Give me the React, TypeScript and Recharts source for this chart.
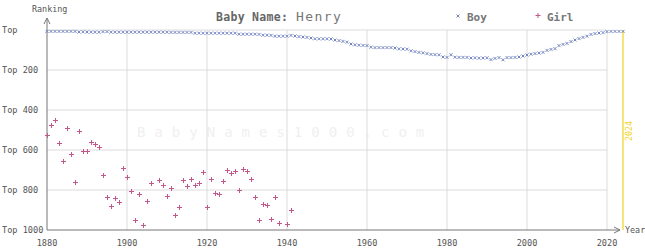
import { ScatterChart, Scatter, XAxis, YAxis, ReferenceLine, Label } from 'recharts';

const boyStartYear = 1880;
const boyRanks = [
  7, 7, 7, 7, 7, 7, 7, 7, 10, 9, 10, 11, 11, 11, 8, 8,
  11, 11, 11, 11, 11, 11, 11, 11, 11, 11, 11, 11, 11, 11, 11, 12, 12, 12, 12, 12, 12,
  16, 16, 16, 16, 16, 16, 16, 16, 16, 16, 16,
  21, 21, 21, 21, 21, 22, 26, 26, 27, 31, 31, 31, 31, 27,
  30, 33, 35, 37, 40, 44, 44, 44, 44, 45, 50, 53, 57, 61,
  70, 74, 76, 77, 78, 86, 88, 88, 88, 88, 88, 90, 94, 95, 96,
  104, 108, 112, 114, 118, 122, 123, 124, 135, 137, 124,
  136, 137, 137, 137, 140, 139, 141, 140, 139, 148, 142, 138, 149,
  138, 138, 137, 135, 130, 125, 121, 118, 115, 112, 102, 97, 93,
  78, 72, 67, 58, 50, 43, 37, 31, 22, 18, 15, 13, 8, 7, 7, 7, 7,
];

const girlStartYear = 1880;
const girlRanks: (number | null)[] = [
  525, 475, 450, 565, 657, 492, 620, 760, 505, 607,
  607, 560, 570, 585, 725, 835, 880, 840, 860, 690,
  735, 805, 950, 820, 975, 855, 765, null, 750, 775,
  830, 790, 925, 885, 750, 780, 745, 775, 765, 710,
  885, 745, 815, 820, 755, 700, 715, 705, 800, 695,
  705, 745, 835, 950, 870, 875, 945, 835, 965, null,
  970, 900,
];

const yearTicks = [1880, 1900, 1920, 1940, 1960, 1980, 2000, 2020];
const rankTicks = [0, 200, 400, 600, 800, 1000];
const gridYears = [1900, 1920, 1940, 1960, 1980, 2000, 2020];
const gridRanks = [0, 200, 400, 600, 800];
const currentYear = 2024;

const boyData = boyRanks.map((rank, i) => ({ year: boyStartYear + i, rank }));
const girlData = girlRanks
  .map((rank, i) => ({ year: girlStartYear + i, rank }))
  .filter((d) => d.rank !== null);

const mono = '"DejaVu Sans Mono", monospace';
const gridColor = '#dcdcdc';
const axisColor = '#777';
const boyColor = '#7587c2';
const girlColor = '#c2578a';
const yellow = '#f2d31b';

function BoyMark(props: any) {
  const { cx, cy } = props;
  if (cx == null || cy == null) return null;
  return (
    <path
      d={`M${cx - 1.5},${cy - 1.5}L${cx + 1.5},${cy + 1.5}M${cx - 1.5},${cy + 1.5}L${cx + 1.5},${cy - 1.5}`}
      stroke={boyColor}
      strokeWidth={1}
      fill="none"
    />
  );
}

function GirlMark(props: any) {
  const { cx, cy } = props;
  if (cx == null || cy == null) return null;
  const x = Math.round(cx) + 0.5;
  const y = Math.round(cy) + 0.5;
  return (
    <path
      d={`M${x - 2.5},${y}L${x + 2.5},${y}M${x},${y - 2.5}L${x},${y + 2.5}`}
      stroke={girlColor}
      strokeWidth={1}
      fill="none"
    />
  );
}

function RankTick(props: any) {
  const { y, payload } = props;
  const v = payload.value;
  return (
    <text x={2} y={y + 3} fontFamily={mono} fontSize={8.6} fill="#555" textAnchor="start">
      {v === 0 ? 'Top' : `Top ${v}`}
    </text>
  );
}

function YearTick(props: any) {
  const { x, payload } = props;
  return (
    <text x={x} y={246} fontFamily={mono} fontSize={8.6} fill="#555" textAnchor="middle">
      {payload.value}
    </text>
  );
}

function YDeco(props: any) {
  const { x, y, width, height } = props.viewBox;
  const ax = x + width;
  return (
    <g>
      <line x1={ax} y1={y - 12} x2={ax} y2={y + height} stroke={axisColor} strokeWidth={1} />
      <polyline points={`${ax - 3},${y - 6} ${ax},${y - 12} ${ax + 3},${y - 6}`} stroke={axisColor} fill="none" />
      <text x={32} y={12} fontFamily={mono} fontSize={8.4} fill="#555">
        Ranking
      </text>
    </g>
  );
}

function XDeco(props: any) {
  const { x, y, width } = props.viewBox;
  const end = x + width - 3;
  return (
    <g>
      <line x1={x} y1={y} x2={end} y2={y} stroke={axisColor} strokeWidth={1} />
      <polyline points={`${end - 6},${y - 3} ${end},${y} ${end - 6},${y + 3}`} stroke={axisColor} fill="none" />
      <text x={625} y={233} fontFamily={mono} fontSize={8.4} fill="#555">
        Year
      </text>
    </g>
  );
}

function YearMarkLabel(props: any) {
  const { x, y, height } = props.viewBox;
  const tx = x + 9;
  const ty = y + height / 2 + 1;
  return (
    <text
      x={tx}
      y={ty}
      transform={`rotate(-90 ${tx} ${ty})`}
      fontFamily={mono}
      fontSize={8.4}
      fill={yellow}
      textAnchor="middle"
    >
      {currentYear}
    </text>
  );
}

export default function App() {
  return (
    <div style={{ position: 'absolute', left: 0, top: 0, width: 645, height: 250, background: '#fff' }}>
      <svg width={645} height={250} style={{ position: 'absolute', left: 0, top: 0 }}>
        <text x={137} y={137} fontFamily={mono} fontSize={14} fill="#f0f0f0" letterSpacing={9}>
          BabyNames1000.com
        </text>
        <text x={216} y={21} fontFamily={mono} fontSize={11.5} fontWeight="bold" fill="#666" letterSpacing={0.3}>
          Baby Name:
        </text>
        <text x={296} y={20.5} fontFamily={mono} fontSize={13} fill="#777" letterSpacing={1.4}>
          Henry
        </text>
        <path d="M456.5,14.5L459.5,17.5M456.5,17.5L459.5,14.5" stroke={boyColor} fill="none" />
        <text x={467} y={20.5} fontFamily={mono} fontSize={11} fontWeight="bold" fill="#777">
          Boy
        </text>
        <path d="M535.5,15.5L540.5,15.5M538,13L538,18" stroke={girlColor} strokeWidth={1} fill="none" />
        <text x={547} y={20.5} fontFamily={mono} fontSize={11} fontWeight="bold" fill="#777">
          Girl
        </text>
      </svg>
      <div style={{ position: 'absolute', left: 0, top: 0 }}>
        <ScatterChart width={645} height={250} margin={{ top: 30, right: 22, bottom: 0, left: 0 }}>
          <XAxis
            type="number"
            dataKey="year"
            domain={[1880, 2024]}
            ticks={yearTicks}
            interval={0}
            height={20}
            axisLine={false}
            tickLine={false}
            tick={<YearTick />}
          >
            <Label content={<XDeco />} />
          </XAxis>
          <YAxis
            type="number"
            dataKey="rank"
            domain={[0, 1000]}
            reversed
            ticks={rankTicks}
            interval={0}
            width={47}
            axisLine={false}
            tickLine={false}
            tick={<RankTick />}
          >
            <Label content={<YDeco />} />
          </YAxis>
          {gridRanks.map((r) => (
            <ReferenceLine
              key={`h${r}`}
              segment={[
                { x: 1880, y: r },
                { x: 2020, y: r },
              ]}
              stroke={gridColor}
              strokeWidth={1}
            />
          ))}
          {gridYears.map((yr) => (
            <ReferenceLine key={`v${yr}`} x={yr} stroke={gridColor} strokeWidth={1} />
          ))}
          <Scatter data={girlData} dataKey="rank" shape={<GirlMark />} isAnimationActive={false} />
          <Scatter data={boyData} dataKey="rank" shape={<BoyMark />} isAnimationActive={false} />
          <ReferenceLine x={currentYear} stroke={yellow} strokeWidth={1.2} label={<YearMarkLabel />} />
        </ScatterChart>
      </div>
    </div>
  );
}
